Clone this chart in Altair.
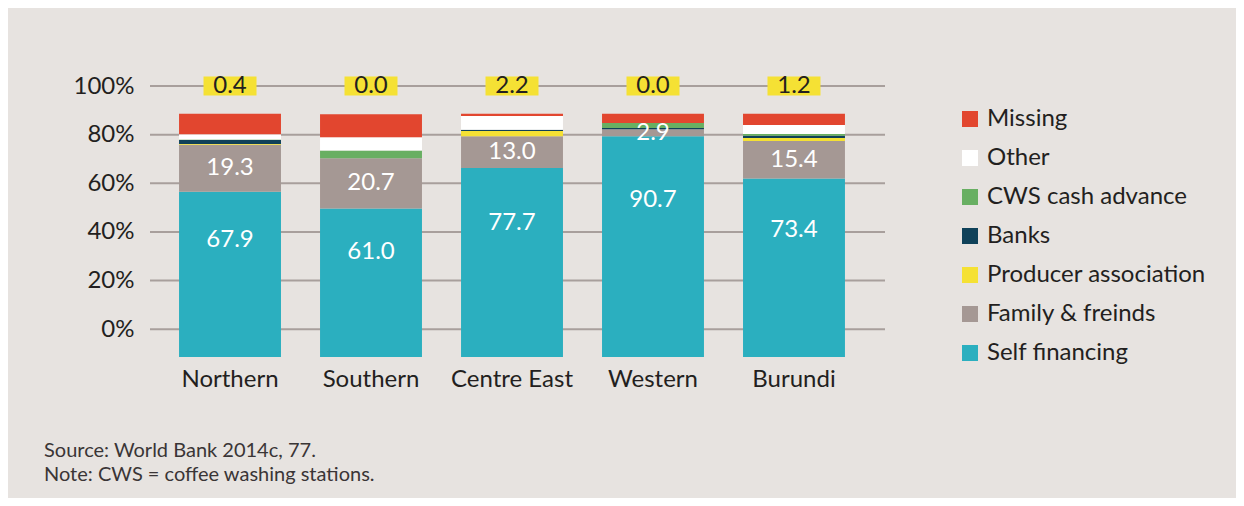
import altair as alt
import pandas as pd

regions = ["Northern", "Southern", "Centre East", "Western", "Burundi"]
sources = ["Self financing", "Family & freinds", "Producer association", "Banks",
           "CWS cash advance", "Other", "Missing"]
self_fin = [67.9, 61.0, 77.7, 90.7, 73.4]
family = [19.3, 20.7, 13.0, 2.9, 15.4]
producer = [0.4, 0.0, 2.2, 0.0, 1.2]
banks = [1.6, 0.0, 0.5, 0.5, 1.0]
cws = [0.2, 3.2, 0.0, 2.1, 0.7]
other = [2.2, 5.4, 5.7, 0.0, 3.7]
missing = [8.4, 9.5, 0.9, 3.8, 4.6]
producer_labels = ["0.4", "0.0", "2.2", "0.0", "1.2"]
y_ticks = [0, 20, 40, 60, 80, 100]
colors = ["#2BAFBF", "#A59894", "#F5E134", "#0F4159", "#68AF62", "#FFFFFF", "#E2462F"]
base = -11.4  # bars in the original sit below the 0% gridline

series = [self_fin, family, producer, banks, cws, other, missing]
rows = []
for i, r in enumerate(regions):
    lo = base
    for s, vals in zip(sources, series):
        v = vals[i]
        rows.append({"Region": r, "Source": s, "value": v, "lo": lo, "hi": lo + v})
        lo += v
df = pd.DataFrame(rows)

lab_self = df[df.Source == "Self financing"].copy()
lab_self["pos"] = lab_self["lo"] + 0.71 * lab_self["value"]
lab_self["txt"] = lab_self["value"].map(lambda v: f"{v:.1f}")
lab_fam = df[df.Source == "Family & freinds"].copy()
lab_fam["pos"] = (lab_fam["lo"] + lab_fam["hi"]) / 2
lab_fam["txt"] = lab_fam["value"].map(lambda v: f"{v:.1f}")
boxes = pd.DataFrame({"Region": regions, "txt": producer_labels})
grid = pd.DataFrame({"v": y_ticks})

FONT = "Lato"
TXT = "#231F20"
yscale = alt.Scale(domain=[base, 100], nice=False, zero=False)
yaxis = alt.Axis(title=None, values=y_ticks, domain=False, ticks=False, grid=False,
                 labelExpr="datum.value + '%'", labelFontSize=24, labelFont=FONT,
                 labelColor=TXT, labelPadding=16)
xenc = alt.X("Region:N", sort=regions, title=None,
             scale=alt.Scale(paddingInner=0.277, paddingOuter=0.206),
             axis=alt.Axis(title=None, labelAngle=0, domain=False, ticks=False,
                           labelFontSize=24, labelFont=FONT, labelColor=TXT,
                           labelPadding=10))

gridlayer = alt.Chart(grid).mark_rule(color="#A89F9C", strokeWidth=2).encode(
    y=alt.Y("v:Q", scale=yscale, axis=yaxis),
    x=alt.value(0), x2=alt.value(735))

bars = alt.Chart(df).mark_bar().encode(
    x=xenc,
    y=alt.Y("lo:Q", scale=yscale, axis=yaxis),
    y2="hi:Q",
    color=alt.Color("Source:N", scale=alt.Scale(domain=sources, range=colors),
                    legend=alt.Legend(title=None, orient="none", legendX=808, legendY=21,
                                      values=sources[::-1], symbolType="square",
                                      symbolSize=256, symbolStrokeWidth=0,
                                      labelFontSize=24, labelFont=FONT, labelColor=TXT,
                                      labelLimit=0, labelOffset=5, rowPadding=15,
                                      padding=0)))

def labels(d):
    return alt.Chart(d).mark_text(color="white", fontSize=24, font=FONT).encode(
        x=xenc, y=alt.Y("pos:Q", scale=yscale, axis=yaxis), text="txt:N")

box_shape = "M-1,-0.358L1,-0.358L1,0.358L-1,0.358Z"
boxlayer = alt.Chart(boxes).mark_point(shape=box_shape, size=2809, filled=True,
                                       color="#F5E134", opacity=1, strokeWidth=0).encode(
    x=xenc, y=alt.YDatum(100, scale=yscale, axis=yaxis))
boxtext = alt.Chart(boxes).mark_text(color=TXT, fontSize=24, font=FONT).encode(
    x=xenc, y=alt.YDatum(100, scale=yscale, axis=yaxis), text="txt:N")

note = alt.Chart(pd.DataFrame({"t": [["Source: World Bank 2014c, 77.",
                                      "Note: CWS = coffee washing stations."]]})).mark_text(
    align="left", baseline="alphabetic", fontSize=20, font=FONT, color="#3A3536",
    lineHeight=24).encode(x=alt.value(-106), y=alt.value(371), text="t")

chart = alt.layer(gridlayer, bars, labels(lab_self), labels(lab_fam), boxlayer, boxtext, note).properties(
    width=724, height=271,
    autosize=alt.AutoSizeParams(type="none"),
    padding={"left": 142, "top": 78, "right": 362, "bottom": 141},
    background="#E7E3E0",
).configure_view(stroke=None)

chart.save("out.html", embed_options={"renderer": "svg", "actions": False})
